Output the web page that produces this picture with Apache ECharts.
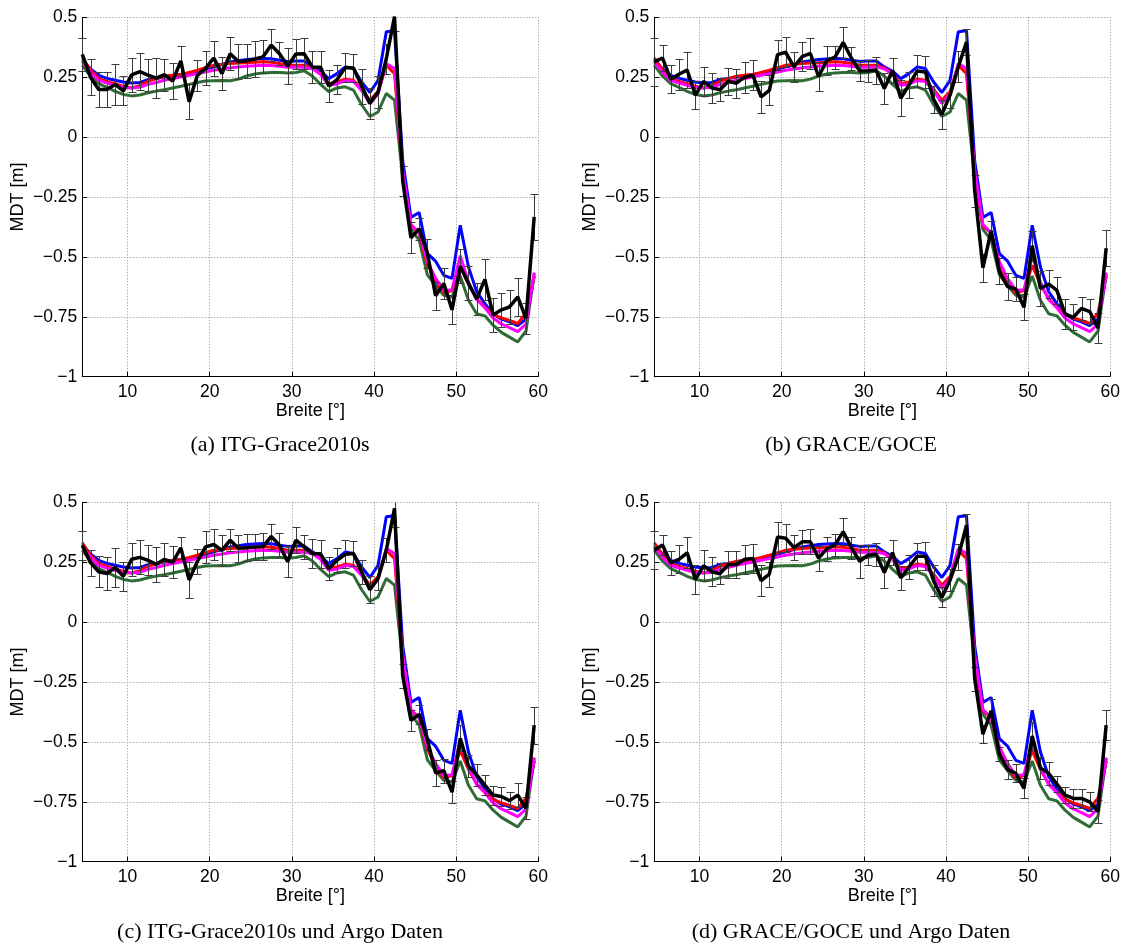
<!DOCTYPE html>
<html><head><meta charset="utf-8">
<script src="https://cdn.jsdelivr.net/npm/echarts@6/dist/echarts.min.js"></script>
<style>html,body{margin:0;padding:0;background:#fff}#chart{width:1123px;height:948px}</style>
</head><body><div id="chart"></div>
<script>
// ---------------- data ----------------
const lat = [4.5,5.5,6.5,7.5,8.5,9.5,10.5,11.5,12.5,13.5,14.5,15.5,16.5,17.5,18.5,19.5,20.5,21.5,22.5,23.5,24.5,25.5,26.5,27.5,28.5,29.5,30.5,31.5,32.5,33.5,34.5,35.5,36.5,37.5,38.5,39.5,40.5,41.5,42.5,43.5,44.5,45.5,46.5,47.5,48.5,49.5,50.5,51.5,52.5,53.5,54.5,55.5,56.5,57.5,58.5,59.5];

const mdtBlue = [0.321,0.285,0.258,0.245,0.237,0.23,0.226,0.228,0.24,0.245,0.251,0.256,0.261,0.266,0.275,0.284,0.293,0.303,0.314,0.319,0.324,0.326,0.328,0.327,0.321,0.316,0.318,0.318,0.293,0.275,0.244,0.265,0.293,0.286,0.23,0.186,0.237,0.44,0.444,
 -0.1,-0.335,-0.315,-0.486,-0.518,-0.577,-0.59,-0.368,-0.542,-0.645,-0.695,-0.737,-0.76,-0.771,-0.787,-0.76,-0.58];
const mdtRed = [0.331,0.28,0.244,0.232,0.223,0.212,0.205,0.215,0.233,0.244,0.254,0.258,0.261,0.27,0.279,0.29,0.30,0.304,0.307,0.309,0.31,0.312,0.314,0.312,0.307,0.30,0.30,0.30,0.289,0.265,0.223,0.23,0.242,0.237,0.2,0.154,0.19,0.30,0.265,
 -0.15,-0.37,-0.40,-0.53,-0.6,-0.65,-0.64,-0.535,-0.615,-0.675,-0.71,-0.74,-0.755,-0.765,-0.778,-0.735,-0.58];
const mdtMagenta = [0.314,0.27,0.237,0.226,0.216,0.208,0.205,0.208,0.22,0.228,0.237,0.244,0.251,0.258,0.265,0.272,0.279,0.284,0.289,0.293,0.296,0.298,0.30,0.299,0.296,0.291,0.293,0.292,0.285,0.262,0.216,0.222,0.236,0.232,0.195,0.14,0.18,0.307,0.286,
 -0.14,-0.365,-0.4,-0.52,-0.59,-0.64,-0.637,-0.495,-0.605,-0.678,-0.712,-0.755,-0.78,-0.795,-0.812,-0.78,-0.565];
const mdtGreen = [0.30,0.255,0.223,0.208,0.191,0.178,0.172,0.176,0.185,0.192,0.198,0.205,0.212,0.22,0.228,0.234,0.235,0.236,0.235,0.242,0.255,0.263,0.268,0.27,0.27,0.268,0.27,0.277,0.255,0.22,0.19,0.205,0.21,0.196,0.135,0.086,0.105,0.182,0.154,
 -0.17,-0.385,-0.43,-0.575,-0.62,-0.66,-0.667,-0.58,-0.681,-0.737,-0.746,-0.785,-0.815,-0.835,-0.855,-0.81,-0.57];

const blackA = [0.345,0.25,0.199,0.199,0.22,0.193,0.26,0.273,0.259,0.246,0.261,0.234,0.318,0.148,0.257,0.287,0.33,0.265,0.348,0.315,0.318,0.326,0.335,0.384,0.348,0.297,0.347,0.348,0.293,0.292,0.213,0.24,0.29,0.288,0.213,0.14,0.188,0.327,0.503,
 -0.183,-0.42,-0.383,-0.485,-0.662,-0.611,-0.721,-0.54,-0.61,-0.675,-0.594,-0.742,-0.721,-0.709,-0.667,-0.757,-0.333];
const errA = [0.07,0.074,0.073,0.073,0.085,0.061,0.071,0.077,0.068,0.084,0.067,0.075,0.061,0.074,0.064,0.071,0.073,0.07,0.068,0.072,0.072,0.075,0.069,0.066,0.047,0.075,0.061,0.064,0.066,0.068,0.068,0.059,0.061,0.059,0.073,0.064,0.066,0.062,0.06,
 0.061,0.065,0.045,0.06,0.058,0.063,0.061,0.071,0.07,0.067,0.084,0.07,0.071,0.07,0.078,0.066,0.096];

const blackB = [0.314,0.33,0.242,0.262,0.28,0.175,0.233,0.205,0.198,0.233,0.225,0.25,0.258,0.168,0.195,0.344,0.354,0.293,0.336,0.349,0.253,0.32,0.334,0.395,0.329,0.276,0.277,0.279,0.203,0.278,0.162,0.218,0.276,0.272,0.158,0.095,0.175,0.293,0.397,
 -0.224,-0.546,-0.39,-0.56,-0.624,-0.634,-0.71,-0.453,-0.632,-0.613,-0.64,-0.738,-0.752,-0.715,-0.728,-0.797,-0.464];
const errB = [0.1,0.056,0.059,0.066,0.074,0.059,0.061,0.061,0.047,0.056,0.06,0.064,0.063,0.068,0.063,0.062,0.062,0.063,0.06,0.066,0.06,0.06,0.048,0.064,0.047,0.04,0.045,0.057,0.063,0.054,0.075,0.054,0.065,0.065,0.057,0.06,0.055,0.065,0.054,
 0.066,0.057,0.04,0.054,0.056,0.049,0.055,0.063,0.072,0.057,0.057,0.062,0.055,0.049,0.054,0.063,0.076];

const blackC = [0.321,0.248,0.21,0.203,0.228,0.191,0.262,0.27,0.258,0.241,0.262,0.249,0.31,0.176,0.253,0.314,0.324,0.299,0.342,0.308,0.31,0.313,0.315,0.358,0.321,0.252,0.342,0.314,0.286,0.285,0.223,0.258,0.283,0.286,0.209,0.135,0.182,0.30,0.475,
 -0.225,-0.41,-0.385,-0.49,-0.63,-0.62,-0.71,-0.485,-0.6,-0.638,-0.68,-0.722,-0.728,-0.745,-0.722,-0.777,-0.43];
const errC = [0.06,0.054,0.064,0.068,0.082,0.061,0.07,0.071,0.063,0.072,0.068,0.067,0.047,0.075,0.052,0.066,0.064,0.063,0.045,0.057,0.056,0.054,0.056,0.051,0.05,0.065,0.053,0.05,0.059,0.059,0.049,0.05,0.058,0.053,0.05,0.057,0.05,0.05,0.08,
 0.05,0.043,0.04,0.042,0.054,0.05,0.045,0.055,0.045,0.045,0.04,0.04,0.038,0.035,0.05,0.045,0.077];

const blackD = [0.30,0.322,0.247,0.262,0.289,0.178,0.236,0.21,0.202,0.24,0.24,0.262,0.266,0.173,0.2,0.355,0.35,0.311,0.335,0.335,0.267,0.306,0.322,0.377,0.31,0.254,0.279,0.283,0.207,0.29,0.184,0.23,0.275,0.275,0.172,0.103,0.175,0.272,0.405,
 -0.236,-0.468,-0.37,-0.55,-0.615,-0.631,-0.694,-0.475,-0.609,-0.631,-0.676,-0.722,-0.736,-0.736,-0.75,-0.79,-0.43];
const errD = [0.08,0.04,0.051,0.058,0.065,0.06,0.063,0.061,0.045,0.056,0.055,0.06,0.061,0.065,0.052,0.061,0.058,0.051,0.051,0.052,0.052,0.05,0.045,0.056,0.045,0.068,0.042,0.049,0.063,0.052,0.049,0.05,0.057,0.058,0.065,0.042,0.045,0.055,0.045,
 0.05,0.038,0.05,0.03,0.04,0.038,0.042,0.06,0.047,0.049,0.035,0.035,0.038,0.04,0.04,0.047,0.064];

const captions = ['(a) ITG-Grace2010s','(b) GRACE/GOCE','(c) ITG-Grace2010s und Argo Daten','(d) GRACE/GOCE und Argo Daten'];
const xTicks = [10,20,30,40,50,60];
const xName = 'Breite [°]';
const yName = 'MDT [m]';

// ---------------- layout / style ----------------
const X_MIN = 4.5, X_MAX = 60, Y_MIN = -1, Y_MAX = 0.5, Y_STEP = 0.25;
const gridPos = [[82.3,17.3],[654.3,17.3],[82.3,502.3],[654.3,502.3]];
const GW = 456, GH = 359.4;
const capPos = [[280,445],[851,445],[280,932],[851,932]];
const SANS = '"Liberation Sans", Arial, Helvetica, sans-serif';
const SERIF = '"Liberation Serif", "Times New Roman", serif';
const gridLine = {color:'#8c8c8c', type:[1,2], width:1};

const panels = [
  {black: blackA, err: errA},
  {black: blackB, err: errB},
  {black: blackC, err: errC},
  {black: blackD, err: errD}
];

function pairs(ys){ return lat.map((x,i)=>[x, ys[i]]); }

function errRender(params, api){
  const x = api.value(0), lo = api.value(1), hi = api.value(2);
  const hiC = Math.min(hi, Y_MAX);
  const a = api.coord([x, lo]), b = api.coord([x, hiC]);
  const px = Math.round(a[0]) + 0.5;
  const ya = Math.round(a[1]) + 0.5, yb = Math.round(b[1]) + 0.5;
  const st = {stroke:'#3c3c3c', lineWidth:1};
  const cw = 4;
  const ch = [
    {type:'line', shape:{x1:px,y1:ya,x2:px,y2:yb}, style:st},
    {type:'line', shape:{x1:px-cw,y1:ya,x2:px+cw,y2:ya}, style:st}
  ];
  if (hi <= Y_MAX) ch.push({type:'line', shape:{x1:px-cw,y1:yb,x2:px+cw,y2:yb}, style:st});
  return {type:'group', children: ch};
}

const grid = gridPos.map(p=>({left:p[0], top:p[1], width:GW, height:GH, containLabel:false}));

const xAxis = gridPos.map((p,i)=>({
  gridIndex:i, type:'value', min:X_MIN, max:X_MAX,
  axisLine:{show:true, onZero:false, lineStyle:{color:'#000', width:1}},
  axisTick:{show:true, inside:true, length:5, customValues:xTicks, lineStyle:{color:'#000'}},
  axisLabel:{show:true, customValues:xTicks, color:'#000', fontSize:17.5, fontFamily:SANS, margin:6},
  splitLine:{show:true, lineStyle:gridLine},
  name:xName, nameLocation:'middle', nameGap:23,
  nameTextStyle:{color:'#000', fontSize:18, fontFamily:SANS}
}));

const yAxis = gridPos.map((p,i)=>({
  gridIndex:i, type:'value', min:Y_MIN, max:Y_MAX, interval:Y_STEP,
  axisLine:{show:true, onZero:false, lineStyle:{color:'#000', width:1}},
  axisTick:{show:true, inside:true, length:5, lineStyle:{color:'#000'}},
  axisLabel:{show:true, color:'#000', fontSize:17.5, fontFamily:SANS, margin:5,
    formatter: v => (v < 0 ? '\u2212' : '') + String(Math.abs(v))},
  splitLine:{show:true, lineStyle:gridLine},
  name:yName, nameLocation:'middle', nameGap:55, nameRotate:90,
  nameTextStyle:{color:'#000', fontSize:18, fontFamily:SANS}
}));

const series = [];
panels.forEach((p,i)=>{
  const common = {type:'line', xAxisIndex:i, yAxisIndex:i, showSymbol:false, symbol:'none', silent:true};
  series.push(Object.assign({}, common, {name:'green', data:pairs(mdtGreen), lineStyle:{color:'#2f6b34', width:3}, z:2}));
  series.push(Object.assign({}, common, {name:'blue', data:pairs(mdtBlue), lineStyle:{color:'#0000ff', width:3}, z:3}));
  series.push(Object.assign({}, common, {name:'red', data:pairs(mdtRed), lineStyle:{color:'#ff0000', width:3}, z:4}));
  series.push(Object.assign({}, common, {name:'magenta', data:pairs(mdtMagenta), lineStyle:{color:'#ff00ff', width:3}, z:5}));
  series.push({type:'custom', xAxisIndex:i, yAxisIndex:i, silent:true, z:6,
    renderItem: errRender, encode:{x:0, y:[1,2]},
    data: lat.map((x,k)=>[x, p.black[k]-p.err[k], p.black[k]+p.err[k]])});
  series.push(Object.assign({}, common, {name:'black', data:pairs(p.black), lineStyle:{color:'#000000', width:3.5}, z:7}));
});

const graphic = captions.map((t,i)=>({
  type:'text', x:capPos[i][0], y:capPos[i][1], silent:true,
  style:{text:t, fill:'#000', fontSize:22, fontFamily:SERIF, align:'center', verticalAlign:'middle'}
}));

const chart = echarts.init(document.getElementById('chart'), null, {renderer:'canvas'});
chart.setOption({
  animation:false,
  backgroundColor:'#ffffff',
  grid, xAxis, yAxis, series, graphic
});
</script>
</body></html>
